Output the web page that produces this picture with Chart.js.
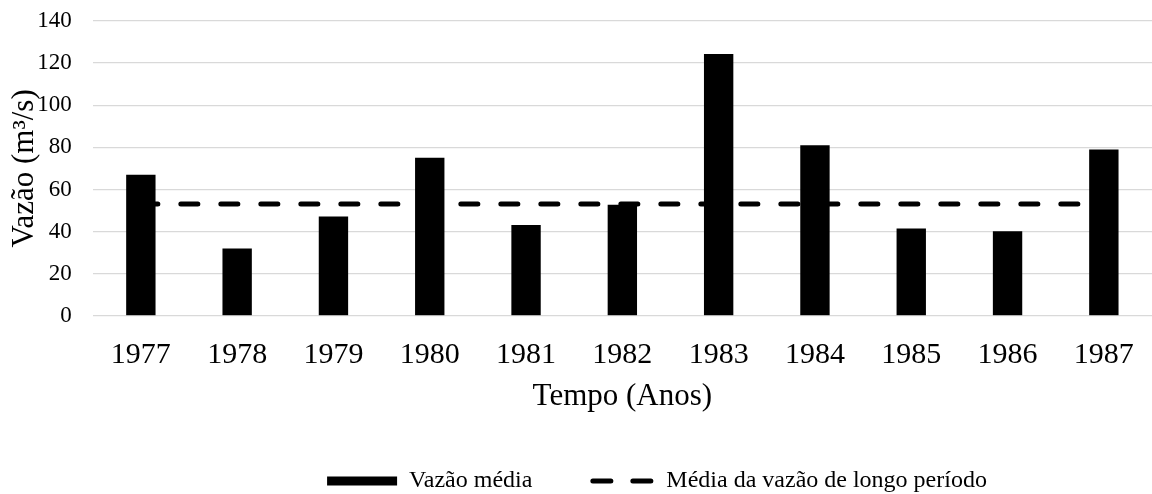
<!DOCTYPE html>
<html lang="pt">
<head>
    <meta charset="UTF-8">
    <title>Vazão média</title>
    <script src="https://cdn.jsdelivr.net/npm/chart.js"></script>
    <style>
        html, body { margin: 0; padding: 0; background: #fff; }
        #wrap { width: 1152px; height: 494px; }
    </style>
</head>
<body>
    <div id="wrap"><canvas id="chart"></canvas></div>

    <script>
        var anos = ['1977', '1978', '1979', '1980', '1981', '1982', '1983', '1984', '1985', '1986', '1987'];
        var vazaoMedia = [67, 32, 47.2, 75, 43.1, 52.7, 124.3, 81, 41.5, 40.2, 79];
        var mediaLongoPeriodo = [53.1, 53.1, 53.1, 53.1, 53.1, 53.1, 53.1, 53.1, 53.1, 53.1, 53.1];
        var yTicks = [0, 20, 40, 60, 80, 100, 120, 140];

        var fonte = 'Liberation Serif, Times New Roman, serif';
        Chart.defaults.font.family = fonte;
        Chart.defaults.color = '#000';

        // legenda um pouco deslocada para a direita, como no original
        var moveLegenda = {
            id: 'moveLegenda',
            afterLayout: function(chart) {
                chart.legend.left += 81;
                chart.legend.right += 81;
            }
        };

        var ctx = document.getElementById('chart').getContext('2d');

        var chart = new Chart(ctx, {
            data: {
                labels: anos,
                datasets: [{
                    type: 'bar',
                    label: 'Vazão média',
                    data: vazaoMedia,
                    backgroundColor: '#000',
                    borderWidth: 0,
                    barPercentage: 0.305,
                    categoryPercentage: 1,
                    pointStyle: 'rect',
                    order: 1
                }, {
                    type: 'line',
                    label: 'Média da vazão de longo período',
                    data: mediaLongoPeriodo,
                    borderColor: '#000',
                    backgroundColor: '#000',
                    borderWidth: 5,
                    borderDash: [17, 23],
                    borderCapStyle: 'round',
                    pointRadius: 0,
                    pointHoverRadius: 0,
                    pointStyle: 'line',
                    fill: false,
                    order: 2
                }]
            },
            plugins: [moveLegenda],
            options: {
                responsive: true,
                maintainAspectRatio: false,
                animation: false,
                layout: { padding: { top: 21, right: 0, left: 0, bottom: -9 } },
                plugins: {
                    tooltip: { enabled: false },
                    legend: {
                        position: 'bottom',
                        labels: {
                            usePointStyle: true,
                            pointStyleWidth: 70,
                            boxHeight: 9,
                            padding: 52,
                            font: { size: 24 },
                            color: '#000',
                            generateLabels: function(chart) {
                                var items = Chart.defaults.plugins.legend.labels.generateLabels(chart);
                                items.forEach(function(it) {
                                    if (it.pointStyle === 'line') {
                                        it.lineDash = [18, 22];
                                        it.lineDashOffset = 31.5;
                                        it.lineCap = 'round';
                                    }
                                });
                                return items;
                            }
                        }
                    }
                },
                scales: {
                    x: {
                        grid: { display: true, drawOnChartArea: false, tickLength: 21, tickColor: 'rgba(0,0,0,0)' },
                        border: { display: false },
                        ticks: { font: { size: 30 }, padding: 0, maxRotation: 0 },
                        title: {
                            display: true,
                            text: 'Tempo (Anos)',
                            font: { size: 31 },
                            padding: { top: 5, bottom: 2 }
                        }
                    },
                    y: {
                        min: 0,
                        max: 140,
                        afterBuildTicks: function(axis) {
                            axis.ticks = yTicks.map(function(v) { return { value: v }; });
                        },
                        grid: { color: '#d9d9d9', lineWidth: 1.3, tickLength: 21, tickColor: 'rgba(0,0,0,0)' },
                        border: { display: false },
                        ticks: { font: { size: 23 }, padding: 0 },
                        title: {
                            display: true,
                            text: 'Vazão (m³/s)',
                            font: { size: 31 },
                            padding: { top: 6, bottom: -6 }
                        }
                    }
                }
            }
        });
    </script>
</body>
</html>
